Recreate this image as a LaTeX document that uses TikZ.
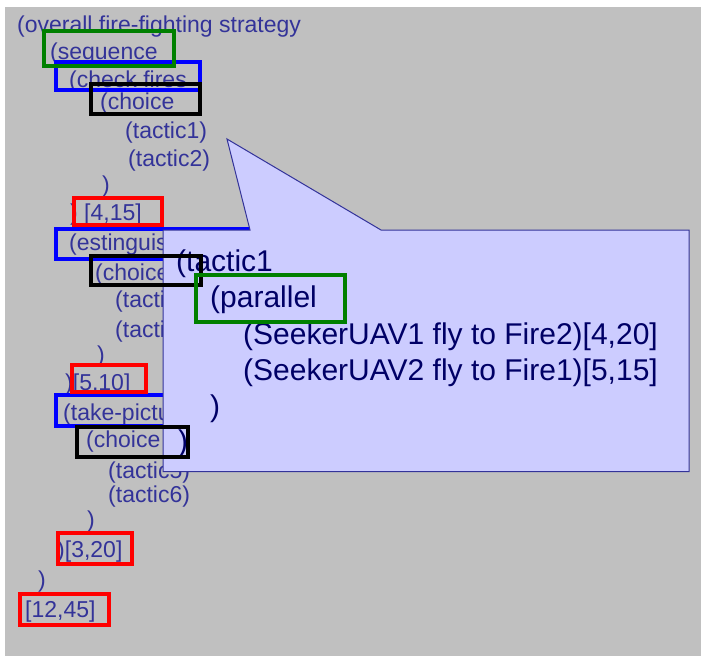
\documentclass[tikz,border=0pt]{standalone}
\usepackage{fontspec}
\setmainfont{Liberation Sans}
\definecolor{txt}{RGB}{51,51,153}
\definecolor{ctxt}{RGB}{0,0,102}
\definecolor{bggray}{RGB}{192,192,192}
\definecolor{callfill}{RGB}{204,204,255}
\definecolor{callline}{RGB}{51,51,153}
\definecolor{gbox}{RGB}{0,128,0}
\definecolor{bbox}{RGB}{0,0,255}
\definecolor{rbox}{RGB}{255,0,0}
\begin{document}
\begin{tikzpicture}[x=1pt,y=-1pt,
  lt/.style={anchor=base west, inner sep=0pt, text=txt, font=\fontsize{23}{27}\selectfont},
  ct/.style={anchor=base west, inner sep=0pt, text=ctxt, font=\fontsize{30}{36}\selectfont},
  frame/.style={line width=4pt},
  greenframe/.style={frame, draw=gbox},
  blueframe/.style={frame, draw=bbox},
  redframe/.style={frame, draw=rbox},
  blackframe/.style={frame, draw=black},
  callout/.style={fill=callfill, draw=callline, line width=1pt, line join=miter}]
\useasboundingbox (0,0) rectangle (701,656);
\fill[white] (0,0) rectangle (701,656);
\fill[bggray] (5,7) rectangle (701,656);
% left text
\node[lt] (t1) at (17,32) {(overall fire-fighting strategy};
\node[lt] (t2) at (50,59) {(sequence};
\node[lt] (t3) at (69,87) {(check fires};
\node[lt] (t4) at (100,109) {(choice};
\node[lt] (t5) at (125,138) {(tactic1)};
\node[lt] (t6) at (128,166) {(tactic2)};
\node[lt] (t7) at (102,192) {)};
\node[lt] (t8) at (70,220) {) [4,15]};
\node[lt] (t9) at (69,250) {(estinguis};
\node[lt] (t10) at (95,280) {(choice};
\node[lt] (t11) at (115,307) {(tactic3)};
\node[lt] (t12) at (115,337) {(tactic4)};
\node[lt] (t13) at (97,362) {)};
\node[lt] (t14) at (65,390) {)[5,10]};
\node[lt] (t15) at (63,420) {(take-pictu};
\node[lt] (t16) at (86,447) {(choice};
\node[lt] (t17) at (108,478) {(tactic5)};
\node[lt] (t18) at (108,502) {(tactic6)};
\node[lt] (t19) at (87,527) {)};
\node[lt] (t20) at (57,557) {)[3,20]};
\node[lt] (t21) at (38,587) {)};
\node[lt] (t22) at (25,617) {[12,45]};
% blue and red frames
\draw[blueframe] (56,62) rectangle (200,90);
\draw[blueframe] (56,228.5) rectangle (260,259);
\draw[blueframe] (56,395) rectangle (260,426);
\draw[redframe] (74,198) rectangle (162,225);
\draw[redframe] (72,365) rectangle (146,392);
\draw[redframe] (58,533) rectangle (132,564);
\draw[redframe] (20,594) rectangle (109,625);
% callout
\draw[callout] (163,230) -- (250,230) -- (227,139) -- (381,230) -- (689,230)
  -- (689,471.5) -- (163,471.5) -- cycle;
\node[ct] (c1) at (176,271.5) {(tactic1};
\node[ct] (c2) at (210,307.5) {(parallel};
\node[ct] (c3) at (243,344.5) {(SeekerUAV1 fly to Fire2)[4,20]};
\node[ct] (c4) at (243,380.5) {(SeekerUAV2 fly to Fire1)[5,15]};
\node[ct] (c5) at (210,416) {)};
\node[ct] (c6) at (178,451) {)};
% black and green frames
\draw[blackframe] (91,84) rectangle (200,114);
\draw[blackframe] (91,256) rectangle (201,285);
\draw[blackframe] (77,427) rectangle (188,457);
\draw[greenframe] (44,31) rectangle (174,66);
\draw[greenframe] (196,275) rectangle (345,322);
\end{tikzpicture}
\end{document}
